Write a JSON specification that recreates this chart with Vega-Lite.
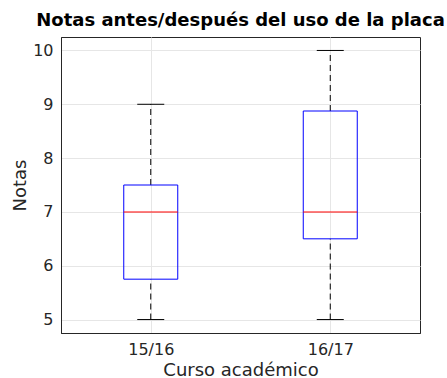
{
  "$schema": "https://vega.github.io/schema/vega-lite/v6.json",
  "autosize": {"type": "none"},
  "padding": {"left": 61, "top": 37, "right": 27, "bottom": 45},
  "width": 359,
  "height": 296,
  "title": {
    "text": "Notas antes/después del uso de la placa",
    "font": "DejaVu Sans",
    "fontSize": 18,
    "fontWeight": "bold",
    "color": "#000000",
    "anchor": "middle",
    "offset": 7
  },
  "data": {
    "values": [
      {"curso": "15/16", "min": 5, "q1": 5.75, "median": 7, "q3": 7.5, "max": 9},
      {"curso": "16/17", "min": 5, "q1": 6.5, "median": 7, "q3": 8.875, "max": 10}
    ]
  },
  "encoding": {
    "x": {
      "field": "curso",
      "type": "nominal",
      "title": "Curso académico",
      "scale": {"type": "point", "padding": 0.5},
      "axis": {"labelAngle": 0, "titlePadding": 4}
    }
  },
  "layer": [
    {
      "mark": {"type": "rule", "color": "#000000", "strokeDash": [6, 4], "strokeWidth": 1},
      "encoding": {
        "y": {"field": "min", "type": "quantitative", "title": "Notas",
              "scale": {"domain": [4.75, 10.25], "nice": false, "zero": false},
              "axis": {"values": [5, 6, 7, 8, 9, 10], "format": "d", "titlePadding": 3}},
        "y2": {"field": "q1"}
      }
    },
    {
      "mark": {"type": "rule", "color": "#000000", "strokeDash": [6, 4], "strokeWidth": 1},
      "encoding": {
        "y": {"field": "q3", "type": "quantitative"},
        "y2": {"field": "max"}
      }
    },
    {
      "mark": {"type": "bar", "fill": "transparent", "stroke": "#0000ff", "strokeWidth": 1, "size": 54},
      "encoding": {
        "y": {"field": "q1", "type": "quantitative"},
        "y2": {"field": "q3"}
      }
    },
    {
      "mark": {"type": "tick", "color": "#ff0000", "size": 54, "thickness": 1, "opacity": 1},
      "encoding": {"y": {"field": "median", "type": "quantitative"}}
    },
    {
      "mark": {"type": "tick", "color": "#000000", "size": 27, "thickness": 1, "opacity": 1},
      "encoding": {"y": {"field": "min", "type": "quantitative"}}
    },
    {
      "mark": {"type": "tick", "color": "#000000", "size": 27, "thickness": 1, "opacity": 1},
      "encoding": {"y": {"field": "max", "type": "quantitative"}}
    }
  ],
  "config": {
    "view": {"stroke": "#262626", "strokeWidth": 1},
    "axis": {
      "labelFont": "DejaVu Sans",
      "titleFont": "DejaVu Sans",
      "labelFontSize": 16,
      "titleFontSize": 18,
      "titleFontWeight": "normal",
      "labelColor": "#262626",
      "titleColor": "#262626",
      "domainColor": "#262626",
      "grid": true,
      "gridColor": "#e6e6e6",
      "gridOpacity": 1,
      "tickSize": 0,
      "labelPadding": 8
    }
  }
}
